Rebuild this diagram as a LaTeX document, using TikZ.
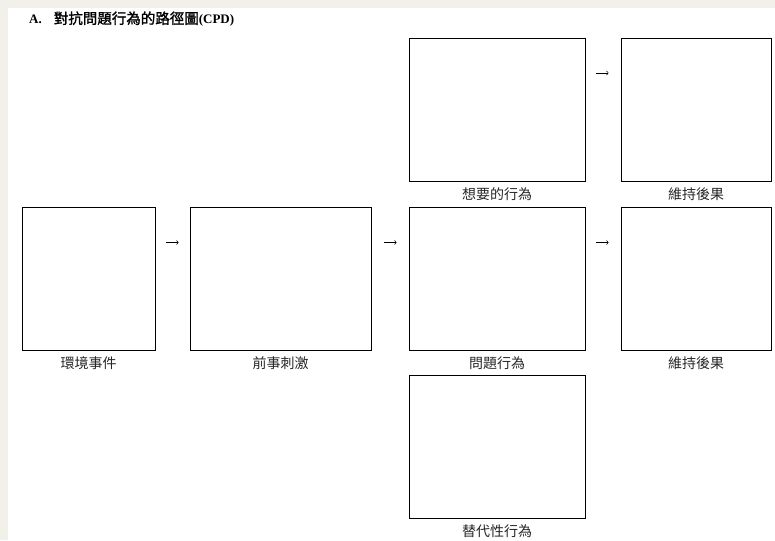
\documentclass[tikz,border=0pt]{standalone}
\usepackage{fontspec}
\setmainfont{Liberation Serif}
\newfontfamily\cjk{Noto Sans CJK TC}
\newfontfamily\cjkbold[FakeBold=1.5]{Noto Sans CJK TC}
\usepackage{tikz}
\usetikzlibrary{positioning}

\definecolor{pagebg}{HTML}{F1F1E9}
\tikzset{
  box/.style={draw, line width=0.8pt, minimum height=143pt, inner sep=0pt},
  lbl/.style={font=\cjk\fontsize{14}{16}\selectfont, text=black!85, inner sep=1pt},
  flow/.style={->, line width=0.6pt}
}

\begin{document}
\begin{tikzpicture}[node distance=168.5pt,on grid,label distance=5pt]
   % page
   \fill[pagebg] (0,0) rectangle (775pt,-540pt);
   \fill[white] (8pt,-8pt) rectangle (775pt,-540pt);
   \useasboundingbox (0,0) rectangle (775pt,-540pt);

   \node[anchor=west, inner sep=0pt] (title) at (29pt,-19pt)
      {\fontsize{13}{15}\selectfont\textbf{A.}\hspace{12pt}{\cjkbold\fontsize{14.5}{16}\selectfont 對抗問題行為的路徑圖}\textbf{(CPD)}};

   % middle row
   \node[box, minimum width=133pt, label={[lbl]below:環境事件}] (env) at (88.5pt,-278.5pt) {};
   \node[box, minimum width=181pt, label={[lbl]below:前事刺激}] (ante) [right=192pt of env] {};
   \node[box, minimum width=176pt, label={[lbl]below:問題行為}] (prob) [right=216.5pt of ante] {};
   \node[box, minimum width=150pt, label={[lbl]below:維持後果}] (cons) [right=199pt of prob] {};
   % top and bottom
   \node[box, minimum width=176pt, label={[lbl]below:想要的行為}] (want) [above=of prob] {};
   \node[box, minimum width=150pt, label={[lbl]below:維持後果}] (wcons) [above=of cons] {};
   \node[box, minimum width=176pt, label={[lbl]below:替代性行為}] (alt) [below=of prob] {};

   \draw[flow, shorten <=11pt, shorten >=11pt] ([yshift=36pt]env.east) -- ([yshift=36pt]ante.west);
   \draw[flow, shorten <=13pt, shorten >=12pt] ([yshift=36pt]ante.east) -- ([yshift=36pt]prob.west);
   \draw[flow, shorten <=11pt, shorten >=12pt] ([yshift=36pt]prob.east) -- ([yshift=36pt]cons.west);
   \draw[flow, shorten <=11pt, shorten >=12pt] ([yshift=37pt]want.east) -- ([yshift=37pt]wcons.west);
\end{tikzpicture}
\end{document}
